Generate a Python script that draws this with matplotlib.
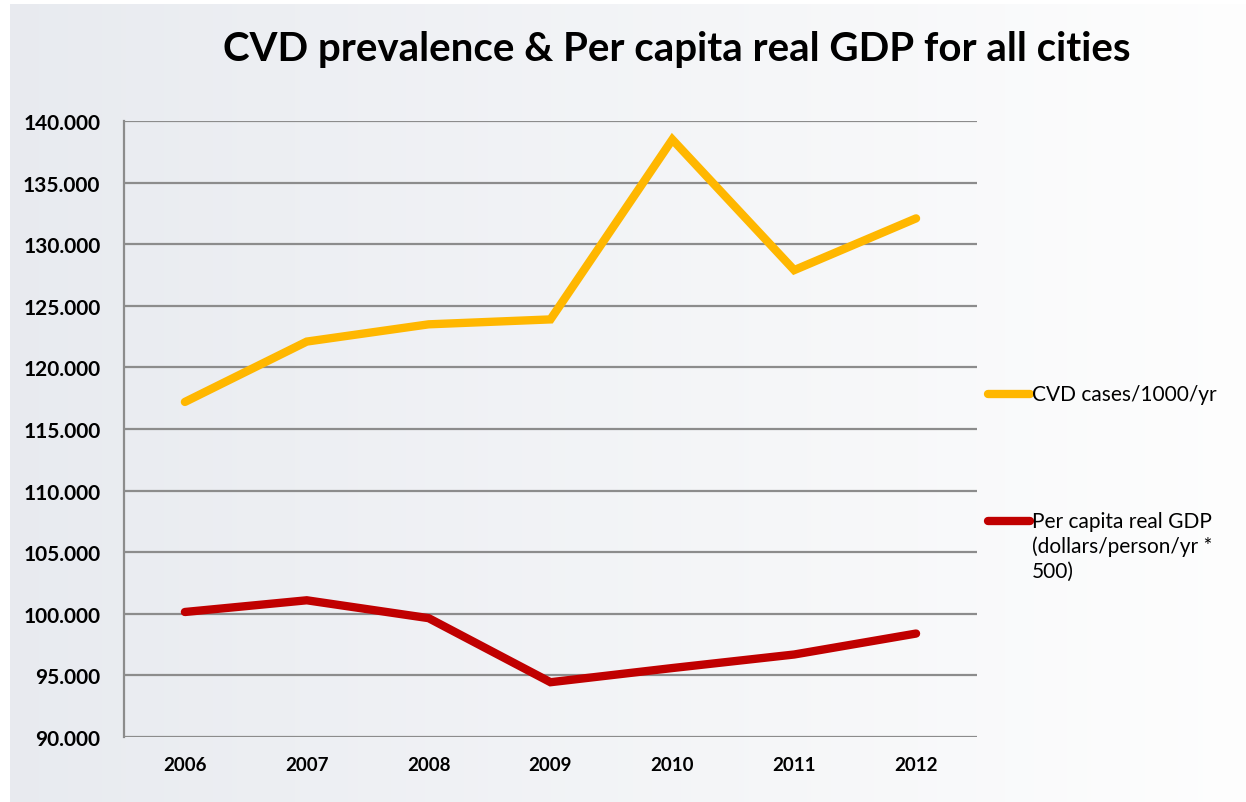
import numpy as np
import matplotlib
matplotlib.use("Agg")
import matplotlib.pyplot as plt
from matplotlib.lines import Line2D

years = ["2006", "2007", "2008", "2009", "2010", "2011", "2012"]
cvd_cases = [117.2, 122.1, 123.5, 123.9, 138.5, 127.9, 132.1]
gdp_scaled = [100.15, 101.1, 99.65, 94.45, 95.6, 96.7, 98.4]
y_ticks = [90, 95, 100, 105, 110, 115, 120, 125, 130, 135, 140]

series_labels = ["CVD cases/1000/yr", "Per capita real GDP\n(dollars/person/yr *\n500)"]
series_colors = ["#FFB700", "#C00000"]

plt.rcParams["font.family"] = ["Lato", "DejaVu Sans"]

fig = plt.figure(figsize=(12.46, 8.03), dpi=100)

# soft left-to-right background gradient, framed by a thin white margin
bg = fig.add_axes([10 / 1246, 0, 1 - 10 / 1246, 1 - 5 / 803], zorder=-10)
grad = np.linspace(0, 1, 256)[None, :]
left = np.array([0.91, 0.92, 0.94])
right = np.array([0.995, 0.995, 0.995])
img = left[None, None, :] * (1 - grad[..., None]) + right[None, None, :] * grad[..., None]
bg.imshow(img, aspect="auto", extent=[0, 1, 0, 1])
bg.axis("off")

ax = fig.add_axes([0.0995, 0.0809, 0.6846, 0.7671])
ax.set_facecolor("none")
x = np.arange(len(years))
ax.plot(x, cvd_cases, color=series_colors[0], lw=6, solid_capstyle="round",
        solid_joinstyle="miter", zorder=3)
ax.plot(x, gdp_scaled, color=series_colors[1], lw=6, solid_capstyle="round",
        solid_joinstyle="miter", zorder=3)

ax.set_xlim(-0.5, len(years) - 0.5)
ax.set_ylim(90, 140)
ax.set_yticks(y_ticks)
ax.set_yticklabels([f"{v:.3f}" for v in y_ticks], fontsize=15, fontweight="bold")
ax.set_xticks(x)
ax.set_xticklabels(years, fontsize=13.5, fontweight="bold")
ax.tick_params(axis="x", length=0, pad=14)
ax.tick_params(axis="y", length=0, pad=17)
ax.yaxis.grid(True, color="#8c8c8c", lw=1.6)
ax.set_axisbelow(True)
for side in ["top", "right", "bottom"]:
    ax.spines[side].set_visible(False)
ax.spines["left"].set_color("#8c8c8c")
ax.spines["left"].set_linewidth(1.6)

fig.text(0.543, 1 - 50 / 803, "CVD prevalence & Per capita real GDP for all cities",
         ha="center", va="center", fontsize=29, fontweight="bold")

# legend entries drawn at the right of the plot
legend_y = [1 - 395 / 803, 1 - 522 / 803]
for lab, col, yy in zip(series_labels, series_colors, legend_y):
    fig.add_artist(Line2D([988 / 1246, 1030 / 1246], [yy, yy], color=col, lw=6,
                          solid_capstyle="round", transform=fig.transFigure))
    fig.text(1032 / 1246, yy + 0.013, lab, fontsize=15, va="top", ha="left",
             linespacing=1.3)

fig.savefig("out.png", dpi=100)
